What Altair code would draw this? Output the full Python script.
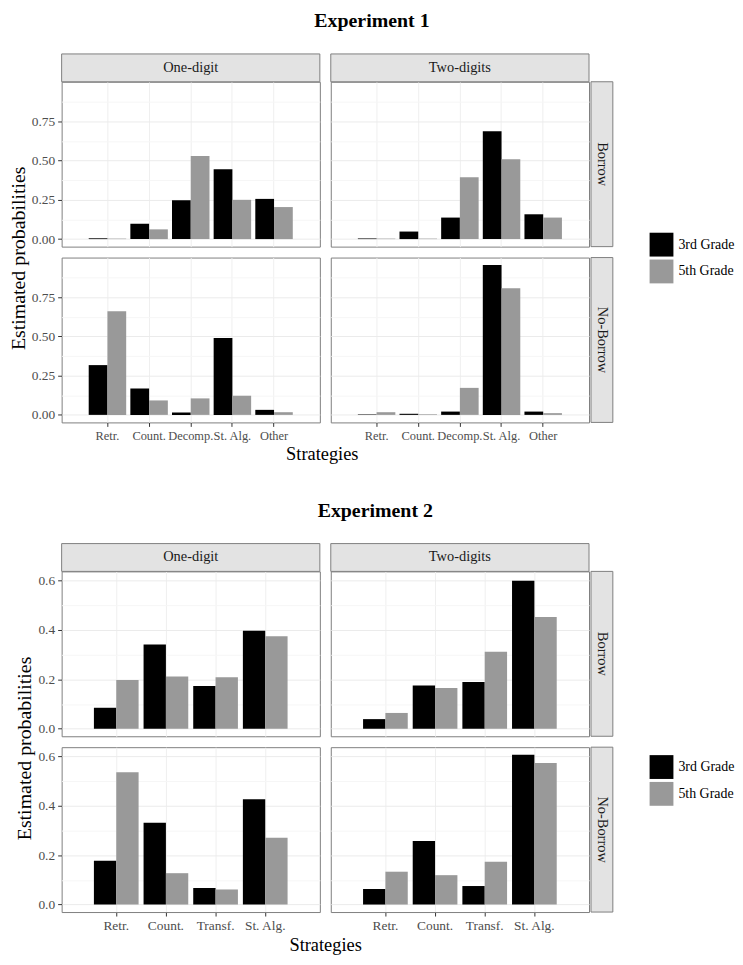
import altair as alt
import pandas as pd

FONT = "Liberation Serif"

grades = ["3rd Grade", "5th Grade"]
grade_colors = ["#000000", "#999999"]
digits = ["One-digit", "Two-digits"]
borrows = ["Borrow", "No-Borrow"]

exp1_strategies = ["Retr.", "Count.", "Decomp.", "St. Alg.", "Other"]
exp2_strategies = ["Retr.", "Count.", "Transf.", "St. Alg."]

# Experiment 1 (values in strategy order)
e1_one_borrow_3rd = [0.005, 0.098, 0.248, 0.445, 0.256]
e1_one_borrow_5th = [0.003, 0.062, 0.529, 0.250, 0.204]
e1_two_borrow_3rd = [0.004, 0.048, 0.137, 0.687, 0.158]
e1_two_borrow_5th = [0.003, 0.003, 0.394, 0.508, 0.137]
e1_one_noborrow_3rd = [0.317, 0.168, 0.015, 0.490, 0.032]
e1_one_noborrow_5th = [0.660, 0.092, 0.105, 0.122, 0.017]
e1_two_noborrow_3rd = [0.003, 0.007, 0.021, 0.954, 0.021]
e1_two_noborrow_5th = [0.017, 0.004, 0.172, 0.807, 0.011]

# Experiment 2
e2_one_borrow_3rd = [0.085, 0.341, 0.173, 0.397]
e2_one_borrow_5th = [0.197, 0.212, 0.209, 0.375]
e2_two_borrow_3rd = [0.039, 0.175, 0.189, 0.599]
e2_two_borrow_5th = [0.064, 0.165, 0.312, 0.453]
e2_one_noborrow_3rd = [0.177, 0.331, 0.067, 0.427]
e2_one_noborrow_5th = [0.536, 0.127, 0.061, 0.271]
e2_two_noborrow_3rd = [0.063, 0.257, 0.075, 0.607]
e2_two_noborrow_5th = [0.133, 0.119, 0.173, 0.573]

exp1_ticks = [0, 0.125, 0.25, 0.375, 0.5, 0.625, 0.75, 0.875]
exp2_ticks = [0, 0.1, 0.2, 0.3, 0.4, 0.5, 0.6]

W, H = 260, 166
STRIP = 28
RSTRIP = 22


def make_panel(strats, v3, v5, dom, ticks, major_expr, fmt, digit, borrow,
               left, bottom, top, right, legend, xlab_size):
    n = len(strats)
    df = pd.DataFrame({
        "strategy": strats * 2,
        "grade": [grades[0]] * n + [grades[1]] * n,
        "value": v3 + v5,
    })
    xaxis = alt.Axis(
        title=None, bandPosition=0.5, labels=bottom, ticks=bottom,
        domain=False, grid=True, labelAngle=0, labelPadding=3, tickSize=4,
        labelFontSize=xlab_size, gridColor="#efefef",
    )
    yaxis = alt.Axis(
        title=None, values=ticks, format=fmt, labels=left, ticks=left,
        domain=False, grid=True, tickSize=4, labelPadding=3, labelFontSize=13.5,
        labelExpr=f"{major_expr} ? datum.label : ''",
        tickOpacity={"condition": {"test": major_expr, "value": 1}, "value": 0},
        gridColor={"condition": {"test": major_expr, "value": "#ebebeb"}, "value": "#f6f6f6"},
    )
    bars = alt.Chart(df).mark_bar(strokeWidth=0).encode(
        x=alt.X("strategy:N", sort=strats,
                scale=alt.Scale(domain=strats, paddingInner=0.1, paddingOuter=0.65),
                axis=xaxis),
        xOffset=alt.XOffset("grade:N", sort=grades, scale=alt.Scale(domain=grades)),
        y=alt.Y("value:Q", stack=None,
                scale=alt.Scale(domain=dom, nice=False, zero=False), axis=yaxis),
        y2=alt.datum(0),
        color=alt.Color("grade:N", scale=alt.Scale(domain=grades, range=grade_colors),
                        legend=legend),
    )
    layers = [bars]
    if top:
        sdf = pd.DataFrame({"label": [digit]})
        layers.append(alt.Chart(sdf).mark_rect(fill="#e3e3e3", stroke="#7f7f7f", strokeWidth=1).encode(
            x=alt.value(0), x2=alt.value(W), y=alt.value(-STRIP), y2=alt.value(0)))
        layers.append(alt.Chart(sdf).mark_text(font=FONT, fontSize=14.5, color="#1a1a1a").encode(
            x=alt.value(W / 2), y=alt.value(-STRIP / 2), text="label:N"))
    if right:
        rdf = pd.DataFrame({"label": [borrow]})
        layers.append(alt.Chart(rdf).mark_rect(fill="#e3e3e3", stroke="#7f7f7f", strokeWidth=1).encode(
            x=alt.value(W + 2), x2=alt.value(W + 2 + RSTRIP), y=alt.value(0), y2=alt.value(H)))
        layers.append(alt.Chart(rdf).mark_text(font=FONT, fontSize=14.5, color="#1a1a1a", angle=90).encode(
            x=alt.value(W + 2 + RSTRIP / 2), y=alt.value(H / 2), text="label:N"))
    return alt.layer(*layers).properties(width=W, height=H)


def make_experiment(title, strats, vals, dom, ticks, major_expr, fmt, legend_y,
                    title_offset, xlab_size):
    legend = alt.Legend(
        title=None, orient="none", legendX=592, legendY=legend_y,
        symbolType="square", symbolSize=576, symbolStrokeWidth=0,
        labelFont=FONT, labelFontSize=14, labelColor="#000000",
        rowPadding=3, labelOffset=5, padding=0,
    )
    panels = {}
    for i, b in enumerate(borrows):
        for j, d in enumerate(digits):
            v3, v5 = vals[(d, b)]
            panels[(i, j)] = make_panel(
                strats, v3, v5, dom, ticks, major_expr, fmt, d, b,
                left=(j == 0), bottom=(i == 1), top=(i == 0), right=(j == 1),
                legend=legend, xlab_size=xlab_size)
    row1 = alt.hconcat(panels[(0, 0)], panels[(0, 1)], spacing=9)
    row2 = alt.hconcat(panels[(1, 0)], panels[(1, 1)], spacing=9).properties(
        title=alt.TitleParams("Strategies", orient="bottom", anchor="middle",
                              font=FONT, fontSize=18.5, fontWeight="normal",
                              color="#000000", offset=3))
    rows = alt.vconcat(row1, row2, spacing=9).properties(
        title=alt.TitleParams("Estimated probabilities", orient="left", anchor="middle",
                              font=FONT, fontSize=20, fontWeight="normal",
                              color="#000000", offset=2))
    return alt.vconcat(rows).properties(
        title=alt.TitleParams(title, anchor="middle", font=FONT, fontSize=20,
                              fontWeight="bold", color="#000000", offset=title_offset))


exp1_vals = {
    ("One-digit", "Borrow"): (e1_one_borrow_3rd, e1_one_borrow_5th),
    ("Two-digits", "Borrow"): (e1_two_borrow_3rd, e1_two_borrow_5th),
    ("One-digit", "No-Borrow"): (e1_one_noborrow_3rd, e1_one_noborrow_5th),
    ("Two-digits", "No-Borrow"): (e1_two_noborrow_3rd, e1_two_noborrow_5th),
}
exp2_vals = {
    ("One-digit", "Borrow"): (e2_one_borrow_3rd, e2_one_borrow_5th),
    ("Two-digits", "Borrow"): (e2_two_borrow_3rd, e2_two_borrow_5th),
    ("One-digit", "No-Borrow"): (e2_one_noborrow_3rd, e2_one_noborrow_5th),
    ("Two-digits", "No-Borrow"): (e2_two_noborrow_3rd, e2_two_noborrow_5th),
}

exp1 = make_experiment("Experiment 1", exp1_strategies, exp1_vals, [-0.048, 1.002],
                       exp1_ticks, "round(datum.value*8) % 2 == 0", ".2f", 152, 22, 12.5)
exp2 = make_experiment("Experiment 2", exp2_strategies, exp2_vals, [-0.0304, 0.6374],
                       exp2_ticks, "round(datum.value*10) % 2 == 0", ".1f", 185, 22, 13.5)

chart = alt.vconcat(exp1, exp2, spacing=37).resolve_scale(
    color="independent", xOffset="independent"
).properties(padding={"left": 0, "top": 0, "right": 0, "bottom": 0}).configure(
    font=FONT, background="white"
).configure_view(
    stroke="#7f7f7f", strokeWidth=1
).configure_axis(
    labelFont=FONT, labelColor="#4d4d4d",
    tickColor="#333333", domain=False, gridWidth=1,
)

chart.save("out.html", embed_options={"renderer": "svg", "actions": False})
